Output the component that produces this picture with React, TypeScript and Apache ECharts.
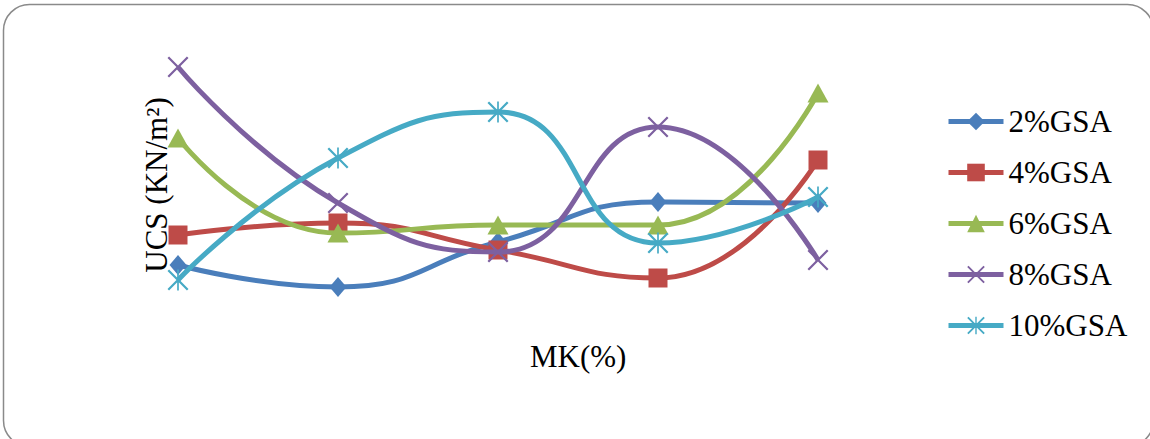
import React, { useEffect, useRef } from "react";
import * as echarts from "echarts";

const categories = ["0", "2", "4", "6", "8"];
const seriesNames = ["2%GSA", "4%GSA", "6%GSA", "8%GSA", "10%GSA"];
const gsa2 = [65, 43, 88, 128, 127];
const gsa4 = [95, 107, 80, 52, 170];
const gsa6 = [192, 97, 105, 105, 237];
const gsa8 = [263, 127, 78, 203, 70];
const gsa10 = [50, 172, 218, 87, 133];
const yAxisTitle = "UCS (KN/m²)";
const xAxisTitle = "MK(%)";

const colors = ["#4A7EBB", "#BE4B48", "#98B954", "#7D60A0", "#46AAC5"];

const crossPath =
  "path://M0,1.5 L1.5,0 L10,8.5 L18.5,0 L20,1.5 L11.5,10 L20,18.5 L18.5,20 L10,11.5 L1.5,20 L0,18.5 L8.5,10 Z";
const starPath =
  "path://M0,1.5 L1.5,0 L10,8.5 L18.5,0 L20,1.5 L11.5,10 L20,18.5 L18.5,20 L10,11.5 L1.5,20 L0,18.5 L8.5,10 Z M9.2,0 L10.8,0 L10.8,20 L9.2,20 Z";

export default function App() {
  const ref = useRef<HTMLDivElement>(null);
  useEffect(() => {
    document.body.style.margin = "0";
    const chart = echarts.init(ref.current!, null, { renderer: "svg" });
    const font = "'Liberation Serif', 'Times New Roman', serif";
    const data = [gsa2, gsa4, gsa6, gsa8, gsa10];
    const symbols: any[] = ["diamond", "rect", "triangle", crossPath, starPath];
    const sizes: any[] = [[17, 20], 19, [21, 19], 21, 21];
    chart.setOption({
      animation: false,
      backgroundColor: "#ffffff",
      color: colors,
      textStyle: { fontFamily: font },
      grid: { left: 178, right: 332, top: 40, bottom: 109 },
      xAxis: {
        type: "category",
        data: categories,
        boundaryGap: false,
        axisLine: { show: false },
        axisTick: { show: false },
        axisLabel: { show: false },
        splitLine: { show: false },
      },
      yAxis: {
        type: "value",
        min: 0,
        max: 290,
        name: yAxisTitle,
        nameLocation: "middle",
        nameGap: 6,
        nameTextStyle: { fontFamily: font, fontSize: 31, color: "#000" },
        axisLine: { show: false },
        axisTick: { show: false },
        axisLabel: { show: false },
        splitLine: { show: false },
      },
      legend: {
        orient: "vertical",
        left: 941,
        top: 101,
        itemWidth: 55,
        itemHeight: 22,
        itemGap: 20,
        lineStyle: { width: 5 },
        textStyle: { fontFamily: font, fontSize: 31, lineHeight: 31, color: "#000" },
        data: seriesNames,
      },
      graphic: [
        {
          type: "rect",
          shape: { x: 3.5, y: 4.5, width: 1150, height: 442, r: 26 },
          style: { fill: "none", stroke: "#8a8a8a", lineWidth: 1.5 },
          silent: true,
        },
        {
          type: "text",
          left: 530,
          top: 341,
          style: { text: xAxisTitle, fontFamily: font, fontSize: 31, fill: "#000" },
        },
      ],
      series: seriesNames.map((name, i) => ({
        name,
        type: "line",
        data: data[i],
        smooth: 0.5,
        symbol: symbols[i],
        symbolSize: sizes[i],
        lineStyle: { width: 5, color: colors[i] },
        itemStyle: { color: colors[i] },
        z: 2 + i,
      })),
    });
    return () => chart.dispose();
  }, []);
  return <div ref={ref} style={{ position: "absolute", left: 0, top: 0, width: 1150, height: 439 }} />;
}
